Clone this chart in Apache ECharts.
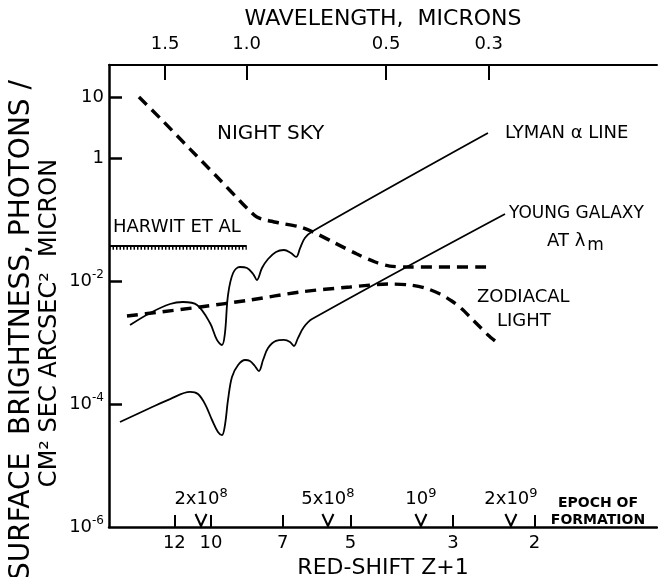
<!DOCTYPE html>
<html>
<head>
<meta charset="utf-8">
<script src="https://cdn.jsdelivr.net/npm/echarts@6/dist/echarts.min.js"></script>
<style>
  html, body { margin: 0; padding: 0; background: #fff; }
  #chart { width: 658px; height: 577px; }
</style>
</head>
<body>
<div id="chart"></div>
<script>
// values: red-shift Z+1 and surface brightness
const nightSkyZ = [14.31, 12.89, 11.10, 9.56, 8.66, 8.24, 7.96, 7.61, 7.10, 6.42, 6.02, 5.40, 4.84, 4.42, 4.11, 3.72, 2.53];
const nightSkyB = [10, 4.55, 1.42, 0.446, 0.203, 0.139, 0.111, 0.0995, 0.0889, 0.0765, 0.0634, 0.042, 0.0278, 0.0206, 0.0177, 0.0171, 0.0171];

const zodiacalZ = [15.19, 12.89, 10.56, 8.24, 6.42, 5.01, 4.11, 3.72, 3.45, 3.20, 3.02, 2.87, 2.745, 2.624, 2.522, 2.435];
const zodiacalB = [0.00272, 0.00316, 0.00382, 0.00496, 0.00669, 0.00807, 0.00903, 0.0087, 0.00777, 0.00621, 0.00478, 0.00354, 0.00253, 0.0018, 0.00134, 0.00107];

const lymanZ = [14.96, 13.54, 12.26, 11.50, 10.72, 10.05, 9.71, 9.47, 9.33, 9.19, 8.96, 8.66, 8.36, 8.11, 7.96, 7.76, 7.53, 7.24, 6.96, 6.72, 6.55, 6.42, 6.27, 6.02, 2.522];
const lymanB = [0.00194, 0.00305, 0.00427, 0.0046, 0.00411, 0.00209, 0.00111, 0.000918, 0.00144, 0.00598, 0.01364, 0.0171, 0.01646, 0.01314, 0.0105, 0.01646, 0.02306, 0.03, 0.0323, 0.0289, 0.0249, 0.0348, 0.0507, 0.0659, 2.59];

const galaxyZ = [15.73, 13.54, 12.26, 11.10, 10.67, 10.30, 9.95, 9.66, 9.47, 9.33, 9.19, 9.01, 8.74, 8.44, 8.24, 8.04, 7.88, 7.72, 7.53, 7.24, 6.96, 6.75, 6.62, 6.49, 6.30, 6.05, 2.317];
const galaxyB = [5.12e-5, 8.66e-5, 1.21e-4, 1.58e-4, 1.46e-4, 1.0e-4, 5.52e-5, 3.52e-5, 3.14e-5, 4.57e-5, 1.17e-4, 2.77e-4, 4.34e-4, 5.23e-4, 5.04e-4, 4.18e-4, 3.46e-4, 5.23e-4, 8.2e-4, 1.07e-3, 1.11e-3, 1.03e-3, 8.84e-4, 1.19e-3, 1.80e-3, 2.43e-3, 0.1246];

const harwitZ = [16.61, 8.37];
const harwitB = 0.0375;

// epoch of formation markers along the red-shift axis
const epochZ = [10.51, 5.59, 3.52, 2.25];
const epochMant = ['2x10', '5x10', '10', '2x10'];
const epochExp = ['8', '8', '9', '9'];

// tick labels
const zTicks = [12, 10, 7, 5, 3, 2];
const waveTicks = [1.5, 1.0, 0.5, 0.3];
const brightTicks = [10, 1, 1e-2, 1e-4];
const brightLabels = [10, 1, 1e-2, 1e-4, 1e-6];

// axis extents
const zMin = 1.088, zMax = 16.61;
const lambdaPerZ = 0.1194;   // wavelength in microns per unit of Z+1 (top scale)
const bMin = 1e-6, bMax = 33.2;

const FONT = 'DejaVu Sans';
const INK = '#000';

const pts = (zs, bs) => zs.map((z, i) => [z, bs[i]]);
const expLabel = v => '{b|10}{s|' + Math.round(Math.log10(v)) + '}';

const chart = echarts.init(document.getElementById('chart'));

const axisText = { color: INK, fontFamily: FONT, fontSize: 18 };

chart.setOption({
  animation: false,
  backgroundColor: '#fff',
  grid: { left: 109, right: 1, top: 65, bottom: 50, containLabel: false, outerBoundsMode: 'none' },
  xAxis: [
    {
      type: 'log', position: 'bottom', inverse: true, min: zMin, max: zMax,
      name: 'RED-SHIFT Z+1', nameLocation: 'middle', nameGap: 29,
      nameTextStyle: { color: INK, fontFamily: FONT, fontSize: 22 },
      axisLine: { lineStyle: { color: INK, width: 2.5 } },
      axisTick: { inside: true, length: 12, customValues: zTicks, lineStyle: { color: INK, width: 2 } },
      axisLabel: Object.assign({ margin: 7, customValues: zTicks }, axisText),
      splitLine: { show: false }, minorTick: { show: false }
    },
    {
      type: 'log', position: 'top', inverse: true,
      min: zMin * lambdaPerZ, max: zMax * lambdaPerZ,
      name: 'WAVELENGTH,  MICRONS', nameLocation: 'middle', nameGap: 34,
      nameTextStyle: { color: INK, fontFamily: FONT, fontSize: 22 },
      axisLine: { lineStyle: { color: INK, width: 2 } },
      axisTick: { inside: true, length: 15, customValues: waveTicks, lineStyle: { color: INK, width: 2 } },
      axisLabel: Object.assign({ margin: 12, customValues: waveTicks, formatter: v => Number(v).toFixed(1) }, axisText),
      splitLine: { show: false }
    }
  ],
  yAxis: {
    type: 'log', min: bMin, max: bMax, logBase: 10,
    axisLine: { lineStyle: { color: INK, width: 2.5 } },
    axisTick: { inside: true, length: 13, customValues: brightTicks, lineStyle: { color: INK, width: 2.5 } },
    axisLabel: {
      margin: 5, customValues: brightLabels, color: INK, fontFamily: FONT, fontSize: 18,
      formatter: v => v >= 1 ? String(Math.round(v)) : expLabel(v),
      rich: {
        b: { fontFamily: FONT, fontSize: 18, color: INK },
        s: { fontFamily: FONT, fontSize: 12, color: INK, verticalAlign: 'top', padding: [0, 0, 12, 0] }
      }
    },
    splitLine: { show: false }
  },
  series: [
    {
      name: 'Night sky', type: 'line', xAxisIndex: 0, data: pts(nightSkyZ, nightSkyB),
      smooth: 0.3, symbol: 'none',
      lineStyle: { color: INK, width: 3.4, type: [11, 7] }
    },
    {
      name: 'Zodiacal light', type: 'line', xAxisIndex: 0, data: pts(zodiacalZ, zodiacalB),
      smooth: 0.3, symbol: 'none',
      lineStyle: { color: INK, width: 3.4, type: [11, 7] }
    },
    {
      name: 'Lyman alpha line', type: 'line', xAxisIndex: 0, data: pts(lymanZ, lymanB),
      smooth: 0.35, symbol: 'none',
      lineStyle: { color: INK, width: 1.8 }
    },
    {
      name: 'Young galaxy', type: 'line', xAxisIndex: 0, data: pts(galaxyZ, galaxyB),
      smooth: 0.35, symbol: 'none',
      lineStyle: { color: INK, width: 1.8 }
    },
    {
      name: 'Harwit et al', type: 'line', xAxisIndex: 0,
      data: harwitZ.map(z => [z, harwitB]), symbol: 'none',
      lineStyle: { color: INK, width: 2 }
    },
    {
      name: 'Harwit hatch', type: 'line', xAxisIndex: 0,
      data: harwitZ.map(z => [z, harwitB * 0.92]), symbol: 'none',
      lineStyle: { color: INK, width: 3, type: [1.5, 2] }
    },
    {
      name: 'Epoch', type: 'scatter', xAxisIndex: 0, clip: false,
      data: epochZ.map(z => [z, bMin]),
      symbol: 'path://M0,0L5,10L10,0', symbolSize: [11, 12], symbolOffset: [0, -7],
      symbolKeepAspect: false,
      itemStyle: { color: 'transparent', borderColor: INK, borderWidth: 2.2, opacity: 1 },
      label: {
        show: true, position: 'top', distance: 2, color: INK,
        formatter: p => '{b|' + epochMant[p.dataIndex] + '}{s|' + epochExp[p.dataIndex] + '}',
        rich: {
          b: { fontFamily: FONT, fontSize: 18, color: INK },
          s: { fontFamily: FONT, fontSize: 13, color: INK, verticalAlign: 'top', padding: [0, 0, 11, 0] }
        }
      }
    }
  ],
  graphic: [
    { type: 'text', x: 22, y: 330, rotation: Math.PI / 2,
      style: { text: 'SURFACE  BRIGHTNESS, PHOTONS /', fill: INK, font: '28px "DejaVu Sans"', align: 'center', verticalAlign: 'middle' } },
    { type: 'text', x: 50, y: 323, rotation: Math.PI / 2,
      style: { text: 'CM\u00B2 SEC ARCSEC\u00B2  MICRON', fill: INK, font: '24px "DejaVu Sans"', align: 'center', verticalAlign: 'middle' } },
    { type: 'text', x: 217, y: 124, style: { text: 'NIGHT SKY', fill: INK, font: '20px "DejaVu Sans"' } },
    { type: 'text', x: 113, y: 218, style: { text: 'HARWIT ET AL', fill: INK, font: '18px "DejaVu Sans"' } },
    { type: 'text', x: 505, y: 124, style: { text: 'LYMAN \u03B1 LINE', fill: INK, font: '18px "DejaVu Sans"' } },
    { type: 'text', x: 509, y: 205, style: { text: 'YOUNG GALAXY', fill: INK, font: '17px "DejaVu Sans"' } },
    { type: 'text', x: 547, y: 229,
      style: { text: '{a|AT \u03BB}{m|m}', fill: INK,
        rich: { a: { fontFamily: FONT, fontSize: 18, fill: INK }, m: { fontFamily: FONT, fontSize: 17, fill: INK, padding: [8, 0, 0, 2] } } } },
    { type: 'text', x: 477, y: 288, style: { text: 'ZODIACAL', fill: INK, font: '18px "DejaVu Sans"' } },
    { type: 'text', x: 497, y: 312, style: { text: 'LIGHT', fill: INK, font: '18px "DejaVu Sans"' } },
    { type: 'text', x: 598, y: 495,
      style: { text: 'EPOCH OF\nFORMATION', fill: INK, font: 'bold 14px "DejaVu Sans"', align: 'center', lineHeight: 17 } }
  ]
});
</script>
</body>
</html>
